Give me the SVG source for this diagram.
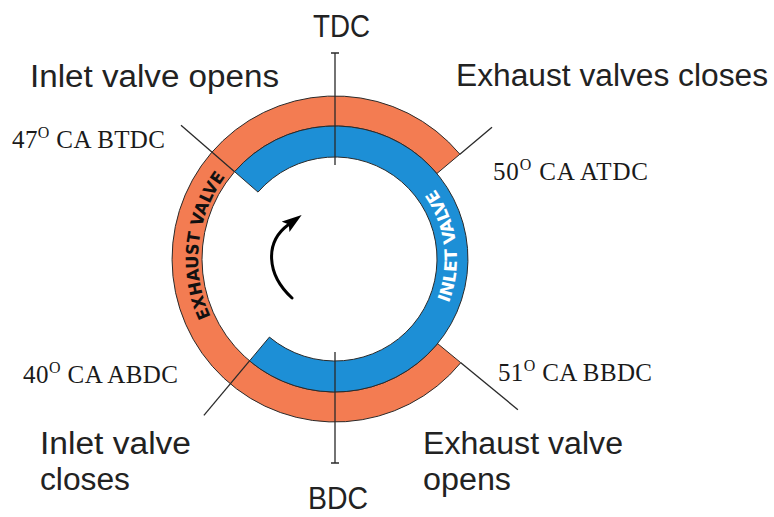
<svg xmlns="http://www.w3.org/2000/svg" width="774" height="517" viewBox="0 0 774 517">
  <style>
    .lbl { font-family: "Liberation Sans", Arial, sans-serif; font-size: 31px; fill: #222; }
    .deg { font-family: "Liberation Serif", "Times New Roman", serif; font-size: 25px; fill: #1a1a1a; }
    .sup { font-size: 16px; }
    .band { stroke: #2a2a2a; stroke-width: 1; }
    .exh { fill: #F37C52; }
    .inl { fill: #1D8FD6; }
    .tick { stroke: #2a2a2a; stroke-width: 1.3; fill: none; }
    .bandtxt { font-family: "Liberation Sans Narrow", "DejaVu Sans Condensed", "Liberation Sans", sans-serif; font-size: 17px; font-weight: bold; }
  </style>
  <defs>
    <marker id="head" markerUnits="userSpaceOnUse" markerWidth="22" markerHeight="14" refX="3" refY="7" orient="auto">
      <path d="M0,0.5 L20,7 L0,13.5 L4,7 Z" fill="#000"/>
    </marker>
    <path id="exhArc" d="M254.5,369.8 A137,137 0 0 1 279.3,133.8"/>
    <path id="inlArc" d="M408.4,356.4 A122,122 0 0 0 382.7,146.7"/>
  </defs>

  <rect width="774" height="517" fill="#fff"/>

  <!-- exhaust valve open period: outer ring, 51 BBDC round to 50 ATDC -->
  <g id="exhaust-band">
    <path class="band exh" d="M459.9,154.2 A163,163 0 1 0 460.8,362.7 L437.6,343.6 A133,133 0 1 1 436.9,173.5 Z"/>
    <text class="bandtxt" fill="#111"><textPath href="#exhArc" startOffset="50%" text-anchor="middle" textLength="148" lengthAdjust="spacingAndGlyphs">EXHAUST VALVE</textPath></text>
  </g>

  <!-- inlet valve open period: inner ring, 47 BTDC round to 40 ABDC -->
  <g id="inlet-band">
    <path class="band inl" d="M234.6,171.7 A133,133 0 1 1 249.5,360.9 L269.4,337.1 A102,102 0 1 0 258.0,192.1 Z"/>
    <text class="bandtxt" fill="#fff"><textPath href="#inlArc" startOffset="50%" text-anchor="middle" textLength="120" lengthAdjust="spacingAndGlyphs">INLET VALVE</textPath></text>
  </g>

  <!-- dead-centre markers and timing leader lines -->
  <g id="connectors">
    <path class="tick" d="M335,53 V165 M331,53 H339"/>
    <path class="tick" d="M335,352 V463 M331,463 H339"/>
    <path class="tick" d="M459.9,154.2 L492.0,127.2"/>
    <path class="tick" d="M460.8,362.7 L517.9,409.7"/>
    <path class="tick" d="M234.6,171.7 L181.0,125.2"/>
    <path class="tick" d="M249.5,360.9 L203.9,415.3"/>
    <!-- direction of crank rotation -->
    <path d="M292,298 C266,274 265,242 288,225" fill="none" stroke="#000" stroke-width="3" stroke-linecap="round" marker-end="url(#head)"/>
  </g>

  <g id="tdc"><text class="lbl" x="313" y="37" textLength="57" lengthAdjust="spacingAndGlyphs">TDC</text></g>
  <g id="bdc"><text class="lbl" x="308" y="509" textLength="60" lengthAdjust="spacingAndGlyphs">BDC</text></g>

  <g id="inlet-opens">
    <text class="lbl" x="30" y="87" textLength="249" lengthAdjust="spacingAndGlyphs">Inlet valve opens</text>
    <text class="deg" x="12" y="148" textLength="153">47<tspan class="sup" dy="-10">O</tspan><tspan dy="10"> CA BTDC</tspan></text>
  </g>

  <g id="exhaust-closes">
    <text class="lbl" x="456" y="86" textLength="312" lengthAdjust="spacingAndGlyphs">Exhaust valves closes</text>
    <text class="deg" x="493" y="180" textLength="155">50<tspan class="sup" dy="-10">O</tspan><tspan dy="10"> CA ATDC</tspan></text>
  </g>

  <g id="inlet-closes">
    <text class="deg" x="23" y="383" textLength="155">40<tspan class="sup" dy="-10">O</tspan><tspan dy="10"> CA ABDC</tspan></text>
    <text class="lbl" x="40" y="454" textLength="151" lengthAdjust="spacingAndGlyphs">Inlet valve</text>
    <text class="lbl" x="40" y="490" textLength="90" lengthAdjust="spacingAndGlyphs">closes</text>
  </g>

  <g id="exhaust-opens">
    <text class="deg" x="498" y="381" textLength="154">51<tspan class="sup" dy="-10">O</tspan><tspan dy="10"> CA BBDC</tspan></text>
    <text class="lbl" x="423" y="454" textLength="200" lengthAdjust="spacingAndGlyphs">Exhaust valve</text>
    <text class="lbl" x="423" y="490" textLength="88" lengthAdjust="spacingAndGlyphs">opens</text>
  </g>
</svg>
